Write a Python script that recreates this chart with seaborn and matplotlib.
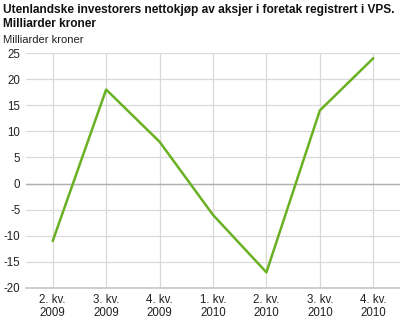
import matplotlib
matplotlib.use("Agg")
import matplotlib.pyplot as plt
import seaborn as sns
import pandas as pd

categories = ["2. kv.\n2009", "3. kv.\n2009", "4. kv.\n2009", "1. kv.\n2010",
              "2. kv.\n2010", "3. kv.\n2010", "4. kv.\n2010"]
values = [-11, 18, 8, -6, -17, 14, 24]
yticks = [-20, -15, -10, -5, 0, 5, 10, 15, 20, 25]

sns.set_theme(style="white")
plt.rcParams['font.family'] = ['Arial', 'Liberation Sans', 'DejaVu Sans']

df = pd.DataFrame({"x": range(len(categories)), "v": values})

fig = plt.figure(figsize=(4, 3.2), dpi=100)
ax = fig.add_axes([26/400, 1 - 288/320, 374/400, 235/320])

sns.lineplot(data=df, x="x", y="v", ax=ax, color="#6ab023", linewidth=1.8)

ax.set_xlim(-0.5, len(categories) - 0.5)
ax.set_ylim(-20, 25)
ax.set_yticks(yticks)
ax.set_yticklabels([str(t) for t in yticks], fontsize=8.3, color="#222222")
ax.set_xticks(range(len(categories)))
ax.set_xticklabels(categories, fontsize=8.3, color="#222222")
ax.set_xlabel("")
ax.set_ylabel("")
ax.grid(True, color="#d9d9d9", linewidth=0.9)
ax.axhline(0, color="#b0b0b0", linewidth=1.0, zorder=1)
for s in ["top", "right", "left"]:
    ax.spines[s].set_visible(False)
ax.spines["bottom"].set_color("#c8c8c8")
ax.tick_params(axis="both", length=0, pad=4)
ax.set_axisbelow(True)

fig.text(3/400, 1 - 4/320, "Utenlandske investorers nettokjøp av aksjer i foretak registrert i VPS.\nMilliarder kroner",
         fontsize=8.6, fontweight="bold", va="top", ha="left", color="#111111", linespacing=1.2)
fig.text(3/400, 1 - 35/320, "Milliarder kroner", fontsize=8.1, va="top", ha="left", color="#222222")

fig.savefig("out.png", dpi=100)
